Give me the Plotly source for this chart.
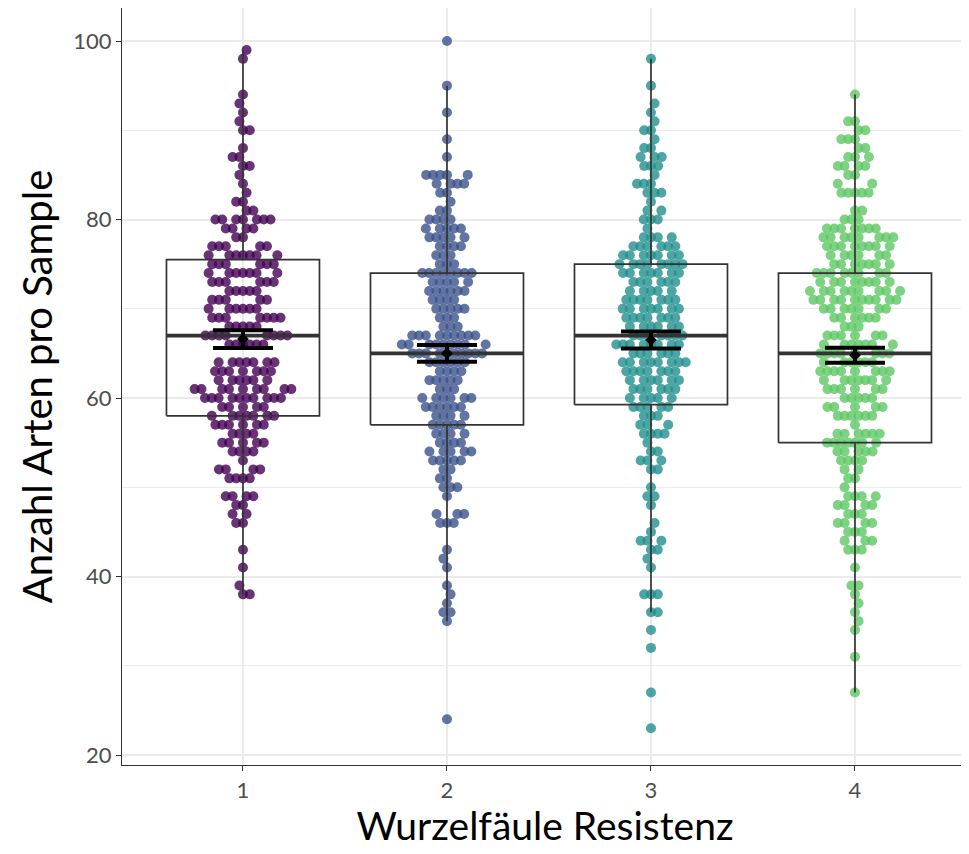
import numpy as np
import plotly.graph_objects as go

# ---------------- data ----------------
groups = [1, 2, 3, 4]
group_labels = ["1", "2", "3", "4"]
colors = ["#440154", "#3B528B", "#21908C", "#5DC863"]

# observed values (integer species counts) and how many samples share each value
g1_vals = [99, 98, 94, 93, 92, 91, 90, 88, 87, 86, 85, 84, 83, 82, 81, 80, 79, 78, 77, 76, 75, 74,
           73, 72, 71, 70, 69, 68, 67, 66, 64, 63, 62, 61, 60, 59, 58, 57, 56, 55, 54, 53, 52, 51,
           49, 48, 47, 46, 43, 41, 39, 38]
g1_cnts = [1, 1, 1, 1, 1, 1, 2, 1, 2, 2, 1, 1, 1, 2, 2, 7, 4, 2, 5, 7, 6, 7,
           6, 5, 5, 6, 7, 5, 8, 6, 7, 7, 6, 9, 10, 5, 7, 6, 4, 5, 4, 1, 4, 4,
           4, 2, 2, 2, 1, 1, 1, 2]

g2_vals = [100, 95, 92, 89, 87, 85, 84, 83, 82, 81, 80, 79, 78, 77, 76, 75, 74, 73, 72, 71, 70, 69,
           68, 67, 66, 65, 64, 63, 62, 61, 60, 59, 58, 57, 56, 55, 54, 53, 52, 51, 50, 49, 47, 46,
           43, 42, 41, 39, 38, 37, 36, 35, 24]
g2_cnts = [1, 1, 1, 1, 1, 5, 4, 2, 1, 2, 4, 5, 5, 4, 3, 3, 8, 5, 6, 4, 5, 3,
           3, 9, 9, 10, 6, 4, 5, 3, 6, 6, 4, 5, 4, 4, 5, 5, 2, 2, 3, 1, 3, 3,
           1, 1, 1, 1, 1, 1, 2, 1, 1]

g3_vals = [98, 95, 93, 92, 91, 90, 89, 88, 87, 86, 85, 84, 83, 82, 81, 80, 79, 78, 77, 76, 75, 74,
           73, 72, 71, 70, 69, 68, 67, 66, 65, 64, 63, 62, 61, 60, 59, 58, 57, 56, 55, 54, 53, 52,
           50, 49, 48, 46, 45, 44, 43, 42, 41, 38, 36, 34, 32, 27, 23]
g3_cnts = [1, 1, 1, 1, 1, 2, 1, 2, 3, 3, 1, 3, 3, 1, 2, 3, 1, 4, 6, 7, 8, 7,
           6, 5, 7, 7, 7, 6, 7, 8, 6, 8, 7, 6, 6, 5, 5, 3, 3, 4, 1, 2, 3, 2,
           1, 2, 1, 1, 1, 3, 2, 1, 1, 3, 2, 1, 1, 1, 1]

g4_vals = [94, 91, 90, 89, 88, 87, 86, 85, 84, 83, 81, 80, 79, 78, 77, 76, 75, 74, 73, 72, 71, 70,
           69, 68, 67, 66, 65, 64, 63, 62, 61, 60, 59, 58, 57, 56, 55, 54, 53, 52, 51, 50, 49, 48,
           47, 46, 45, 44, 43, 41, 39, 38, 37, 36, 35, 34, 31, 27]
g4_cnts = [1, 2, 2, 3, 2, 3, 4, 2, 2, 5, 2, 3, 7, 8, 8, 6, 7, 8, 8, 9, 10, 7,
           6, 3, 6, 7, 8, 6, 8, 7, 6, 5, 5, 6, 1, 6, 7, 5, 4, 2, 2, 1, 4, 4,
           3, 4, 3, 3, 3, 1, 2, 1, 1, 1, 1, 1, 1, 1]

# box-plot statistics
q1 = [58.0, 57.0, 59.25, 55.0]
median = [67.0, 65.0, 67.0, 65.0]
q3 = [75.5, 74.0, 75.0, 74.0]
whisker_low = [38, 35, 36, 27]
whisker_high = [99, 95, 98, 94]

# mean +/- standard error
mean = [66.6, 65.0, 66.5, 64.8]
se = [1.0, 0.94, 0.94, 0.84]

# ---------------- geometry ----------------
W, H = 969, 854
ML, MR, MT, MB = 114, 9, 0, 97
XR = [0.407, 4.554]
YR = [18.88, 103.7]
PX_X = (W - ML - MR) / (XR[1] - XR[0])
PX_Y = (H - MT - MB) / (YR[1] - YR[0])
BOX_HALF = 0.375


def swarm(values, dxm=6.8, dym=10.5):
    """Beeswarm offsets (in px) so that points do not collide."""
    ys = sorted(values)
    px_list, py_list, out_y, out_x = [], [], [], []
    for k, v in enumerate(ys):
        y = v * PX_Y
        cands = [0.0]
        for px, py in zip(px_list, py_list):
            dy = abs(y - py)
            if dy < dym:
                w = dxm * np.sqrt(1 - (dy / dym) ** 2)
                cands += [px + w, px - w]
        sgn = 1 if k % 2 == 0 else -1
        cands = sorted(cands, key=lambda c: (round(abs(c), 6), sgn * c))
        chosen = 0.0
        for c in cands:
            ok = True
            for px, py in zip(px_list, py_list):
                if ((c - px) / dxm) ** 2 + ((y - py) / dym) ** 2 < 1 - 1e-6:
                    ok = False
                    break
            if ok:
                chosen = c
                break
        px_list.append(chosen)
        py_list.append(y)
        out_y.append(v)
        out_x.append(chosen)
    return np.array(out_x), np.array(out_y)


fig = go.Figure()

all_vals = [g1_vals, g2_vals, g3_vals, g4_vals]
all_cnts = [g1_cnts, g2_cnts, g3_cnts, g4_cnts]

for i, g in enumerate(groups):
    vals = []
    for v, c in zip(all_vals[i], all_cnts[i]):
        vals += [v] * c
    offx, yy = swarm(vals)
    fig.add_trace(go.Scatter(
        x=g + offx / PX_X, y=yy, mode="markers",
        marker=dict(color=colors[i], size=10, opacity=0.8, line=dict(width=0)),
        hoverinfo="y", showlegend=False))

# box plots drawn on top of the points
for i, g in enumerate(groups):
    xl, xr = g - BOX_HALF, g + BOX_HALF
    fig.add_trace(go.Scatter(
        x=[g, g, None, g, g], y=[q3[i], whisker_high[i], None, q1[i], whisker_low[i]],
        mode="lines", line=dict(color="#333333", width=1.7), hoverinfo="skip", showlegend=False))
    fig.add_trace(go.Scatter(
        x=[xl, xr, xr, xl, xl], y=[q1[i], q1[i], q3[i], q3[i], q1[i]],
        mode="lines", line=dict(color="#333333", width=1.7), hoverinfo="skip", showlegend=False))
    fig.add_trace(go.Scatter(
        x=[xl, xr], y=[median[i], median[i]],
        mode="lines", line=dict(color="#333333", width=3.8), hoverinfo="skip", showlegend=False))

# mean +/- SE
fig.add_trace(go.Scatter(
    x=groups, y=mean, mode="markers",
    marker=dict(symbol="diamond", color="black", size=9),
    error_y=dict(type="data", array=se, color="black", thickness=4, width=30),
    showlegend=False))

FONT = "Lato, 'Open Sans', sans-serif"
fig.update_layout(
    width=W, height=H,
    margin=dict(l=ML, r=MR, t=MT, b=MB),
    plot_bgcolor="white", paper_bgcolor="white",
    showlegend=False,
    font=dict(family=FONT),
    xaxis=dict(
        range=XR, tickmode="array", tickvals=groups, ticktext=group_labels,
        showgrid=True, gridcolor="#ebebeb", gridwidth=1.6, zeroline=False,
        showline=True, mirror=True, linecolor="#333333", linewidth=1.2,
        ticks="outside", ticklen=5, tickcolor="#333333", tickwidth=1.1,
        tickfont=dict(size=22, color="#4d4d4d", family=FONT),
        title=dict(text="Wurzelfäule Resistenz", font=dict(size=39, color="black", family=FONT), standoff=9),
    ),
    yaxis=dict(
        range=YR, tickmode="array", tickvals=[20, 40, 60, 80, 100],
        showgrid=True, gridcolor="#ebebeb", gridwidth=1.6, zeroline=False,
        minor=dict(tickmode="array", tickvals=[30, 50, 70, 90], showgrid=True,
                   gridcolor="#ebebeb", gridwidth=0.8, ticks=""),
        showline=True, mirror=True, linecolor="#333333", linewidth=1.2,
        ticks="outside", ticklen=5, tickcolor="#333333", tickwidth=1.1,
        tickfont=dict(size=22, color="#4d4d4d", family=FONT),
        title=dict(text="Anzahl Arten pro Sample", font=dict(size=40, color="black", family=FONT), standoff=8),
    ),
)

fig.write_html("out.html")
